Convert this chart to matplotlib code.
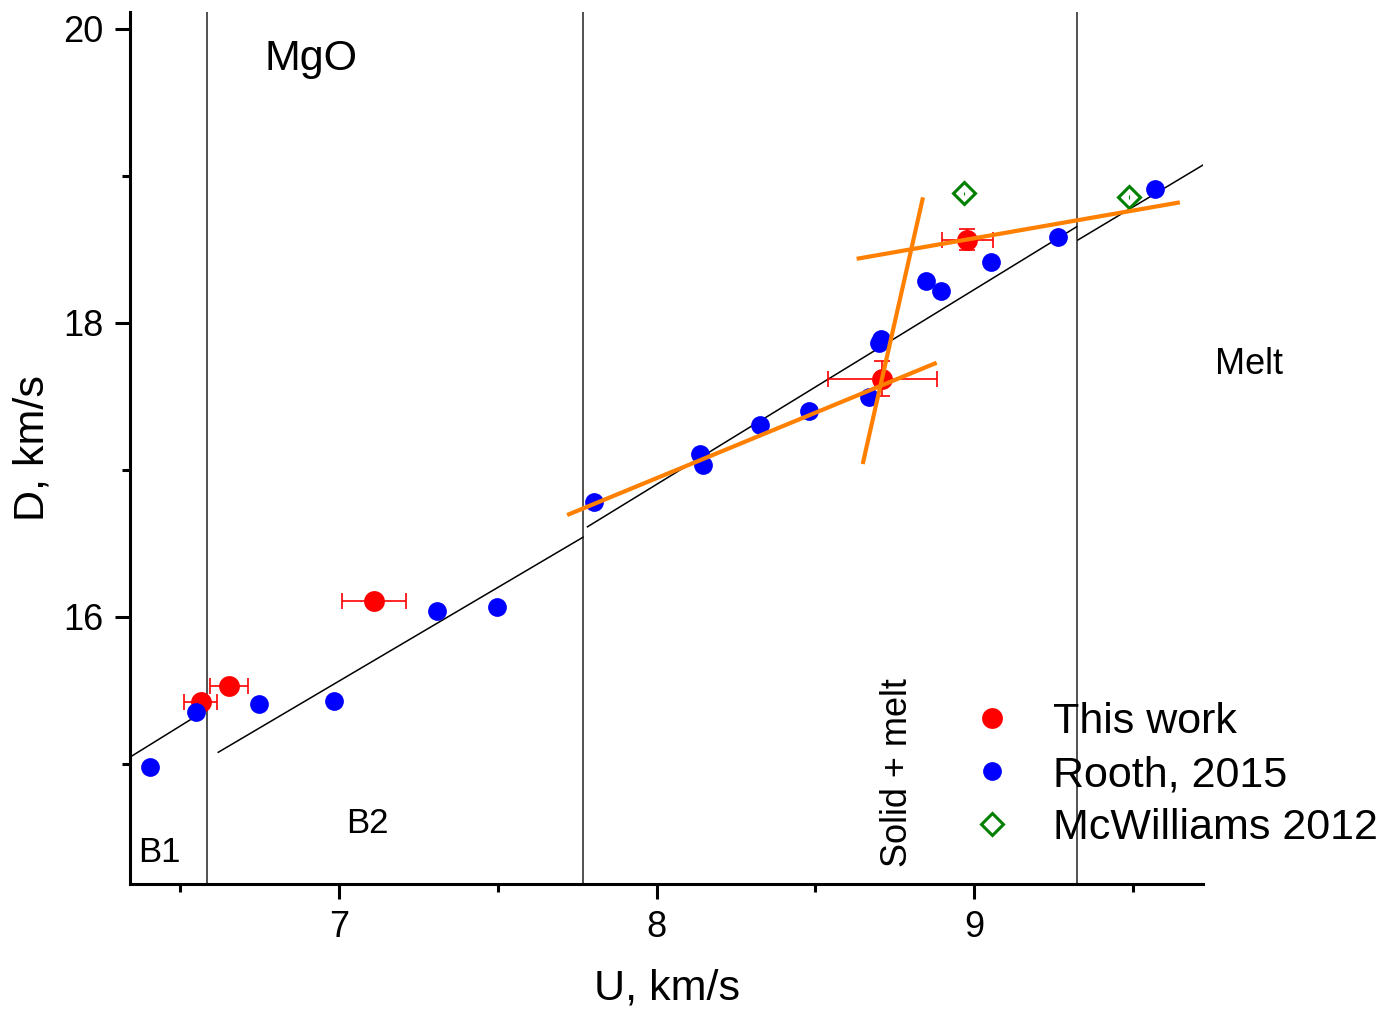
import matplotlib
matplotlib.use("Agg")
import matplotlib.pyplot as plt

plt.rcParams['font.family'] = ['Liberation Sans', 'DejaVu Sans']

# Shock data for MgO: shock velocity U vs. detonation/shock front speed D (km/s)
this_u = [6.564, 6.653, 7.109, 8.711, 8.979]
this_d = [15.420, 15.529, 16.107, 17.620, 18.566]
this_u_err = [0.052, 0.059, 0.100, 0.172, 0.080]
this_d_err = [0.0, 0.0, 0.0, 0.119, 0.070]

rooth_u = [6.404, 6.549, 6.748, 6.984, 7.307, 7.496, 7.803, 8.138, 8.146, 8.325,
           8.480, 8.669, 8.701, 8.708, 8.847, 8.895, 9.052, 9.263, 9.571]
rooth_d = [14.980, 15.354, 15.404, 15.427, 16.039, 16.068, 16.782, 17.107, 17.030, 17.304,
           17.401, 17.497, 17.864, 17.889, 18.286, 18.218, 18.413, 18.585, 18.907]

mcw_u = [8.967, 9.489]
mcw_d = [18.880, 18.857]

# Phase boundaries (U, km/s)
phase_bounds = [6.583, 7.768, 9.323]

# Piecewise linear D(U) fits per phase region: (start, end)
fit_u = [(6.341, 6.583), (6.619, 7.768), (7.782, 9.323), (9.327, 9.721)]
fit_d = [(15.045, 15.369), (15.078, 16.541), (16.612, 18.653), (18.563, 19.073)]

# Local fits through this work's points
kink_u = [(7.718, 8.882), (8.649, 8.839), (8.630, 9.648)]
kink_d = [(16.692, 17.728), (17.039, 18.853), (18.435, 18.819)]

fig = plt.figure(figsize=(13.92, 10.16), dpi=100)
ax = fig.add_axes([130 / 1392, 1 - 884 / 1016, 1073 / 1392, 872 / 1016])

for xb in phase_bounds:
    ax.axvline(xb, color='#222222', lw=1.1, zorder=1)

for u, d in zip(fit_u, fit_d):
    ax.plot(u, d, color='black', lw=1.1, zorder=2)

ax.errorbar(this_u, this_d, xerr=this_u_err, yerr=this_d_err, fmt='none',
            ecolor='red', elinewidth=1.2, capsize=6, capthick=1.2, zorder=3)
ax.plot(this_u, this_d, 'o', color='red', ms=15, mec='none', zorder=4, label='This work')
ax.plot(rooth_u, rooth_d, 'o', color='blue', ms=13.5, mec='none', zorder=5, label='Rooth, 2015')
ax.errorbar(mcw_u, mcw_d, yerr=0.012, fmt='none', ecolor='green', elinewidth=0.8, zorder=5)
ax.plot(mcw_u, mcw_d, 'D', mfc='none', mec='green', mew=2.2, ms=11.5, zorder=6,
        label='McWilliams 2012')

for u, d in zip(kink_u, kink_d):
    ax.plot(u, d, color='#ff8000', lw=3.0, zorder=7, solid_capstyle='butt')

ax.set_xlim(6.341, 9.721)
ax.set_ylim(14.182, 20.114)

ax.spines['top'].set_visible(False)
ax.spines['right'].set_visible(False)
for s in ('left', 'bottom'):
    ax.spines[s].set_linewidth(2.2)

ax.set_xticks([7, 8, 9])
ax.set_xticks([6.5, 7.5, 8.5, 9.5], minor=True)
ax.set_yticks([16, 18, 20])
ax.set_yticks([15, 17, 19], minor=True)
ax.tick_params(which='major', direction='out', length=11, width=2.2, labelsize=26, pad=8)
ax.tick_params(which='minor', direction='out', length=5.5, width=2.2)

ax.set_xlabel('U, km/s', fontsize=31)
ax.set_ylabel('D, km/s', fontsize=31)
ax.xaxis.set_label_coords(0.5, -0.097)
ax.yaxis.set_label_coords(-0.072, 0.5)

ax.text(6.912, 19.719, 'MgO', fontsize=31, ha='center', va='baseline')
ax.text(6.435, 14.331, 'B1', fontsize=25, ha='center', va='baseline')
ax.text(7.089, 14.531, 'B2', fontsize=25, ha='center', va='baseline')
ax.text(9.865, 17.651, 'Melt', fontsize=26, ha='center', va='baseline', clip_on=False)
ax.text(8.760, 14.937, 'Solid + melt', fontsize=26, ha='center', va='center', rotation=90)

fig.legend(loc='center left', bbox_to_anchor=(949 / 1392, 1 - 775 / 1016),
           bbox_transform=fig.transFigure, frameon=False, fontsize=31,
           handlelength=2.0, handletextpad=0.42, labelspacing=0.31,
           borderpad=0, borderaxespad=0)

fig.savefig('out.png', dpi=100)
